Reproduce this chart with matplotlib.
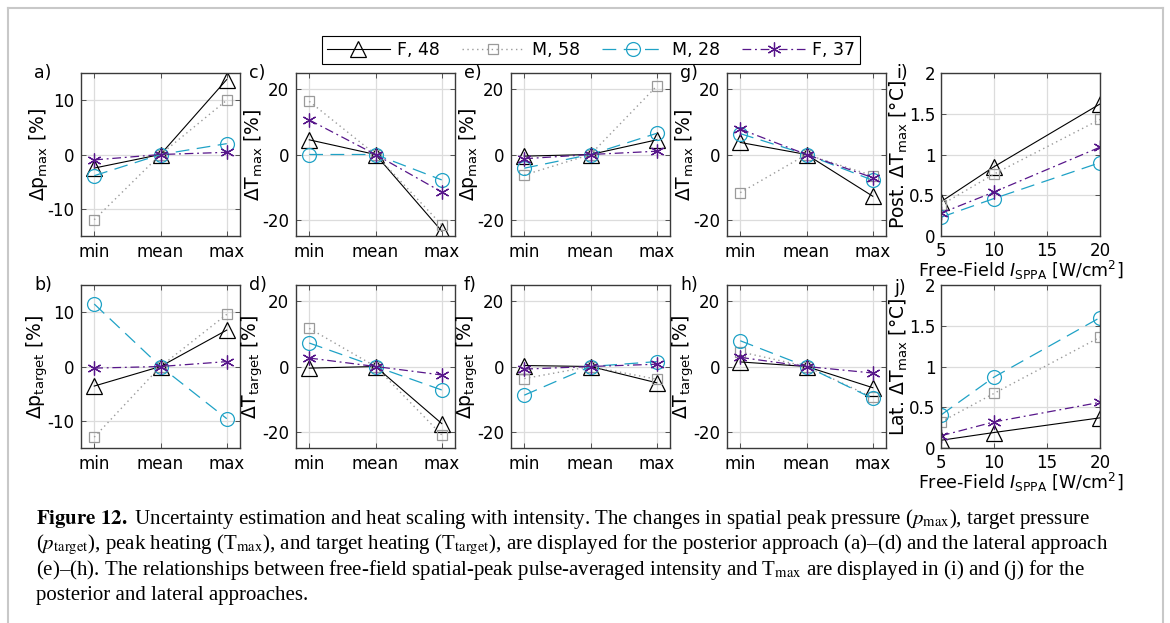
import numpy as np
import matplotlib
matplotlib.use('Agg')
import matplotlib.pyplot as plt
from matplotlib.lines import Line2D

# ---- data ----
categories = ['min', 'mean', 'max']
subjects = ['F, 48', 'M, 58', 'M, 28', 'F, 37']
intensity = [5, 10, 20]

# rows: F48, M58, M28, F37 ; columns: min, mean, max
post_pmax = [[-2.5, 0, 13.8], [-12.0, 0, 10.0], [-3.9, 0, 2.0], [-1.0, 0, 0.4]]
post_ptarget = [[-3.6, 0, 6.7], [-13.0, 0, 9.6], [11.5, 0, -9.6], [-0.3, 0, 0.9]]
post_tmax = [[4.5, 0, -23.5], [16.3, 0, -21.6], [0.0, 0, -7.8], [10.6, 0, -11.5]]
post_ttarget = [[-0.5, 0, -17.5], [11.7, 0, -21.0], [7.2, 0, -7.2], [2.6, 0, -2.6]]

lat_pmax = [[-0.5, 0, 4.5], [-6.3, 0, 21.0], [-4.2, 0, 6.5], [-1.3, 0, 1.0]]
lat_ptarget = [[0.3, 0, -5.0], [-3.7, 0, -3.9], [-8.8, 0, 1.5], [-0.8, 0, 0.7]]
lat_tmax = [[3.7, 0, -12.8], [-11.7, 0, -6.5], [6.4, 0, -7.9], [7.8, 0, -7.1]]
lat_ttarget = [[1.4, 0, -6.5], [4.5, 0, -9.5], [7.9, 0, -9.8], [2.8, 0, -2.0]]

post_dT = [[0.42, 0.85, 1.62], [0.38, 0.76, 1.43], [0.23, 0.46, 0.90], [0.28, 0.54, 1.09]]
lat_dT = [[0.095, 0.19, 0.37], [0.32, 0.67, 1.36], [0.405, 0.87, 1.60], [0.15, 0.32, 0.56]]

# ---- styles ----
purple = '#57168a'
cyan = '#1fa2c6'
styles = [
    dict(color='black', ls='-', marker='^', ms=11, lw=0.8),
    dict(color='#9a9a9a', ls=(0, (1, 2.5)), marker='s', ms=7.5, lw=1.0),
    dict(color=cyan, ls=(0, (11, 6)), marker='o', ms=10, lw=0.9),
    dict(color=purple, ls=(0, (7, 3, 1.5, 3)), marker=(6, 2, 0), ms=10, lw=0.9),
]

plt.rcParams['font.family'] = ['DejaVu Sans']
plt.rcParams['font.size'] = 12
plt.rcParams['axes.unicode_minus'] = False

W, H = 1170, 623
fig = plt.figure(figsize=(W / 100, H / 100), dpi=100)


def px_axes(left, top, w=159, h=163):
    return fig.add_axes([left / W, 1 - (top + h) / H, w / W, h / H])


def style_axes(ax, pad=5):
    for s in ax.spines.values():
        s.set_color('#3a3a3a')
        s.set_linewidth(1.0)
    ax.tick_params(direction='in', length=3.5, width=0.6, color='#3a3a3a',
                   top=True, right=True, pad=pad, labelsize=12)
    ax.grid(True, color='#dcdcdc', lw=0.9)
    ax.set_axisbelow(True)
    ax.yaxis.set_label_coords(-0.195, 0.5)


def cat_panel(ax, data, ylabel, lim, ticks):
    x = np.arange(len(categories))
    for vals, st in zip(data, styles):
        ax.plot(x, vals, fillstyle='none', mew=0.9, **st)
    ax.set_xlim(-0.2, 2.2)
    ax.set_xticks(x)
    ax.set_xticklabels(categories)
    ax.set_ylim(-lim, lim)
    ax.set_yticks(ticks)
    ax.set_ylabel(ylabel, fontsize=13.5)
    style_axes(ax)


def int_panel(ax, data, ylabel):
    for vals, st in zip(data, styles):
        ax.plot(intensity, vals, fillstyle='none', mew=0.9, **st)
    ax.set_xlim(5, 20)
    ax.set_xticks([5, 10, 15, 20])
    ax.set_ylim(0, 2)
    ax.set_yticks([0, 0.5, 1, 1.5, 2])
    ax.set_yticklabels(['0', '0.5', '1', '1.5', '2'])
    ax.set_ylabel(ylabel, fontsize=13.5)
    ax.set_xlabel(r'Free-Field $I_{\mathrm{SPPA}}$ [W/cm$^2$]', labelpad=-0.5, fontsize=12.5)
    style_axes(ax, pad=4)


lefts = [81, 296, 511, 727, 941]
tops = [73, 285]

panels = [
    ('a)', post_pmax, r'$\Delta$p$_{\mathrm{max}}$ [%]', 15, [-10, 0, 10]),
    ('b)', post_ptarget, r'$\Delta$p$_{\mathrm{target}}$ [%]', 15, [-10, 0, 10]),
    ('c)', post_tmax, r'$\Delta$T$_{\mathrm{max}}$ [%]', 25, [-20, 0, 20]),
    ('d)', post_ttarget, r'$\Delta$T$_{\mathrm{target}}$ [%]', 25, [-20, 0, 20]),
    ('e)', lat_pmax, r'$\Delta$p$_{\mathrm{max}}$ [%]', 25, [-20, 0, 20]),
    ('f)', lat_ptarget, r'$\Delta$p$_{\mathrm{target}}$ [%]', 25, [-20, 0, 20]),
    ('g)', lat_tmax, r'$\Delta$T$_{\mathrm{max}}$ [%]', 25, [-20, 0, 20]),
    ('h)', lat_ttarget, r'$\Delta$T$_{\mathrm{target}}$ [%]', 25, [-20, 0, 20]),
]

for i, (lab, data, ylab, lim, ticks) in enumerate(panels):
    col, row = i // 2, i % 2
    ax = px_axes(lefts[col], tops[row])
    cat_panel(ax, data, ylab, lim, ticks)
    fig.text((lefts[col] - 47) / W, 1 - tops[row] / H, lab, fontsize=12.5,
             ha='left', va='center')

ax_i = px_axes(lefts[4], tops[0])
int_panel(ax_i, post_dT, r'Post. $\Delta$T$_{\mathrm{max}}$ [°C]')
fig.text((lefts[4] - 45) / W, 1 - tops[0] / H, 'i)', fontsize=12.5, ha='left', va='center')
ax_j = px_axes(lefts[4], tops[1])
int_panel(ax_j, lat_dT, r'Lat. $\Delta$T$_{\mathrm{max}}$ [°C]')
fig.text((lefts[4] - 47) / W, 1 - (tops[1] + 3) / H, 'j)', fontsize=12.5, ha='left', va='center')

# legend
handles = [Line2D([], [], fillstyle='none', mew=0.9, **st) for st in styles]
fig.legend(handles, subjects, loc='center', bbox_to_anchor=(591 / W, 1 - 50 / H),
           ncol=4, frameon=True, fancybox=False, edgecolor='black', framealpha=1,
           handlelength=3.6, columnspacing=1.3, handletextpad=0.4,
           borderpad=0.3, fontsize=12.5).get_frame().set_linewidth(0.8)

# caption
cap_lines = [
    r'$\mathbf{Figure\ 12.}$ Uncertainty estimation and heat scaling with intensity. '
    r'The changes in spatial peak pressure ($p_{\mathrm{max}}$), target pressure',
    r'($p_{\mathrm{target}}$), peak heating (T$_{\mathrm{max}}$), and target heating '
    r'(T$_{\mathrm{target}}$), are displayed for the posterior approach (a)–(d) and the lateral approach',
    r'(e)–(h). The relationships between free-field spatial-peak pulse-averaged intensity '
    r'and T$_{\mathrm{max}}$ are displayed in (i) and (j) for the',
    'posterior and lateral approaches.',
]
for k, line in enumerate(cap_lines):
    fig.text(36 / W, 1 - (519 + 25.5 * k) / H, line, fontsize=15,
             family='Liberation Serif', math_fontfamily='stix',
             ha='left', va='center')

# light frame around the figure
frame_c = '#c8c8c8'
fig.add_artist(Line2D([8 / W, 8 / W], [0, 1 - 8 / H], color=frame_c, lw=1.5))
fig.add_artist(Line2D([8 / W, 1163 / W], [1 - 8 / H, 1 - 8 / H], color=frame_c, lw=1.5))
fig.add_artist(Line2D([1163 / W, 1163 / W], [0, 1 - 8 / H], color=frame_c, lw=1.5))

fig.savefig('out.png', dpi=100)
